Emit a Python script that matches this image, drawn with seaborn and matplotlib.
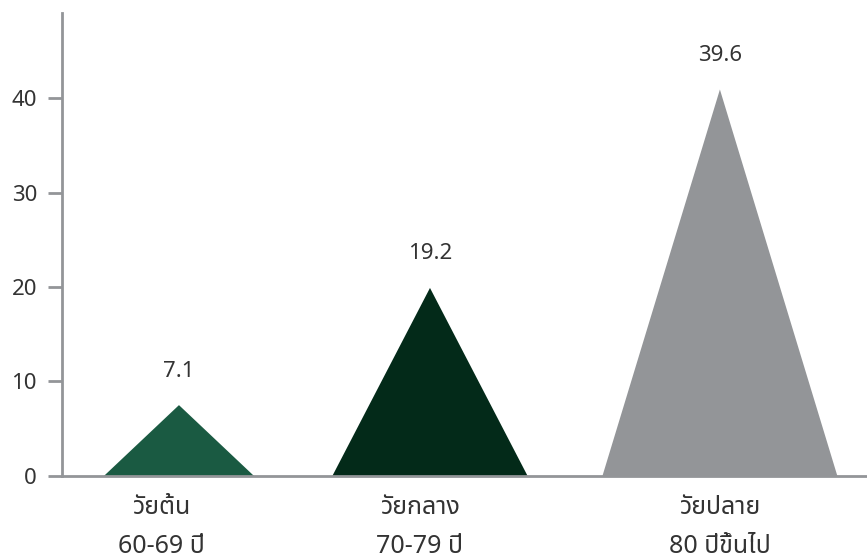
import numpy as np
import pandas as pd
import matplotlib
matplotlib.use("Agg")
import matplotlib.pyplot as plt
from matplotlib.patches import Polygon
import seaborn as sns

sns.set_style("white")
plt.rcParams['font.family'] = ['Noto Sans Thai', 'DejaVu Sans']

# ช่วงวัยของผู้สูงอายุ
groups = ["วัยต้น\n60-69 ปี", "วัยกลาง\n70-79 ปี", "วัยปลาย\n80 ปีขึ้นไป"]
values = [7.1, 19.2, 39.6]
# ความสูงของสามเหลี่ยมตามที่วาดในภาพต้นฉบับ
heights = [7.5, 19.9, 40.9]
yticks = [0, 10, 20, 30, 40]

# ตำแหน่งและขนาดของสามเหลี่ยม
x_pos = [1.0, 2.0, 3.155]
label_pos = [0.928, 1.96, 3.155]
half_w = [0.299, 0.389, 0.468]
colors = ["#1a5a42", "#032a19", "#939598"]
grey = "#939598"
txt = "#333333"

df = pd.DataFrame({"x": x_pos, "h": heights})

fig = plt.figure(figsize=(8.67, 5.59), dpi=100)
ax = fig.add_axes([0.0715, 0.1485, 0.9285, 0.8283])

sns.barplot(data=df, x="x", y="h", native_scale=True, color=grey, ax=ax)

# เปลี่ยนแท่งเป็นสามเหลี่ยม
bars = list(ax.patches)
for i, p in enumerate(bars):
    cx = p.get_x() + p.get_width() / 2
    h = p.get_height()
    p.remove()
    tri = Polygon([(cx - half_w[i], 0), (cx, h), (cx + half_w[i], 0)],
                  closed=True, facecolor=colors[i], edgecolor="none", zorder=2)
    ax.add_patch(tri)
    ax.text(cx, h + 3.6, f"{values[i]}", ha="center", va="center",
            fontsize=16, color=txt, fontweight="light")

ax.set_xlim(0.534, 3.741)
ax.set_ylim(0, 49.0)
ax.set_yticks(yticks)
ax.set_xticks(label_pos)
ax.set_xticklabels(groups, fontsize=18, color=txt, linespacing=1.7,
                   fontweight="light")
ax.set_xlabel("")
ax.set_ylabel("")

for s in ["top", "right"]:
    ax.spines[s].set_visible(False)
for s in ["left", "bottom"]:
    ax.spines[s].set_color(grey)
    ax.spines[s].set_linewidth(2)
    ax.spines[s].set_zorder(3)

ax.tick_params(axis="y", direction="out", length=10, width=2, color=grey,
               labelsize=16, labelcolor=txt, pad=8, left=True)
ax.tick_params(axis="x", length=0, pad=14)
for lab in ax.get_yticklabels():
    lab.set_fontweight("light")

fig.savefig("out.png", dpi=100)
